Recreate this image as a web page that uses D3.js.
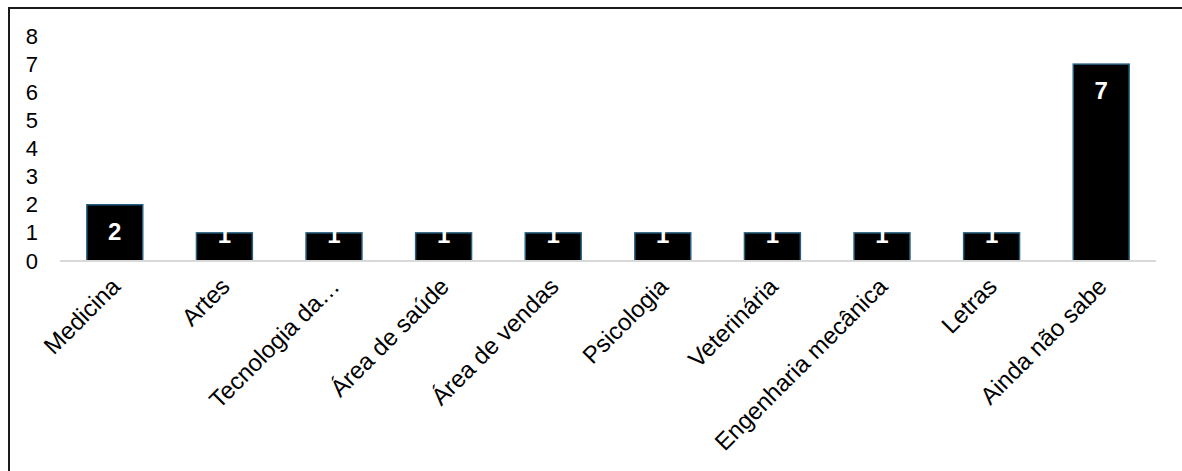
<!DOCTYPE html>
<html>
<head>
<meta charset="utf-8">
<script src="https://cdn.jsdelivr.net/npm/d3@7"></script>
<style>
  body { margin: 0; background: #fff; }
  text { font-family: "Liberation Sans", Arial, sans-serif; }
</style>
</head>
<body>
<div id="chart"></div>
<script>
// Data
let categories = ["Medicina", "Artes", "Tecnologia da…", "Área de saúde", "Área de vendas",
                  "Psicologia", "Veterinária", "Engenharia mecânica", "Letras", "Ainda não sabe"];
let values = [2, 1, 1, 1, 1, 1, 1, 1, 1, 7];
let yTicks = [0, 1, 2, 3, 4, 5, 6, 7, 8];

let width = 1182,
    height = 471;

let data = categories.map((c, i) => ({category: c, value: values[i]}));

let svg = d3.select("#chart").append("svg")
    .attr("width", width)
    .attr("height", height);

// frame (only top/left edges show inside the picture)
svg.append("rect")
    .attr("x", 9).attr("y", 8)
    .attr("width", 1185).attr("height", 475)
    .attr("fill", "none")
    .attr("stroke", "#1a1a1a")
    .attr("stroke-width", 2);

let x = d3.scaleBand()
    .domain(categories)
    .range([60, 1156])
    .paddingInner(0.49)
    .paddingOuter(0.245);

let y = d3.scaleLinear()
    .domain([0, 8])
    .range([261, 36]);

// y labels, no axis line
let yAxis = svg.append("g")
    .attr("transform", "translate(38,0)")
    .call(d3.axisLeft(y).tickValues(yTicks).tickSize(0).tickPadding(0));
yAxis.select(".domain").remove();
yAxis.selectAll("text")
    .attr("font-size", 22)
    .attr("fill", "#000")
    .style("font-family", "'Liberation Sans', Arial, sans-serif");

// bars
svg.selectAll(".bar")
    .data(data)
  .enter().append("rect")
    .attr("class", "bar")
    .attr("x", (d) => x(d.category))
    .attr("y", (d) => y(d.value))
    .attr("width", x.bandwidth())
    .attr("height", (d) => y(0) - y(d.value))
    .attr("fill", "#000")
    .attr("stroke", "#255e7e")
    .attr("stroke-width", 1.5);

// baseline
svg.append("line")
    .attr("x1", 60).attr("x2", 1156)
    .attr("y1", y(0)).attr("y2", y(0))
    .attr("stroke", "#d9d9d9")
    .attr("stroke-width", 2);

// value labels inside end
svg.selectAll(".val")
    .data(data)
  .enter().append("text")
    .attr("class", "val")
    .attr("x", (d) => x(d.category) + x.bandwidth() / 2)
    .attr("y", (d) => {
      let top = y(d.value);
      return (y(0) - top) > 40 ? top + 35 : top + 10;
    })
    .attr("text-anchor", "middle")
    .attr("font-size", 24)
    .attr("font-weight", "bold")
    .attr("fill", "#fff")
    .text((d) => d.value);

// category labels, rotated
svg.selectAll(".cat")
    .data(data)
  .enter().append("text")
    .attr("class", "cat")
    .attr("transform", (d) => "translate(" + (x(d.category) + x.bandwidth() / 2 + 1) + ",282) rotate(-45)")
    .attr("text-anchor", "end")
    .attr("dy", "0.35em")
    .attr("font-size", 24)
    .attr("fill", "#000")
    .text((d) => d.category);
</script>
</body>
</html>
